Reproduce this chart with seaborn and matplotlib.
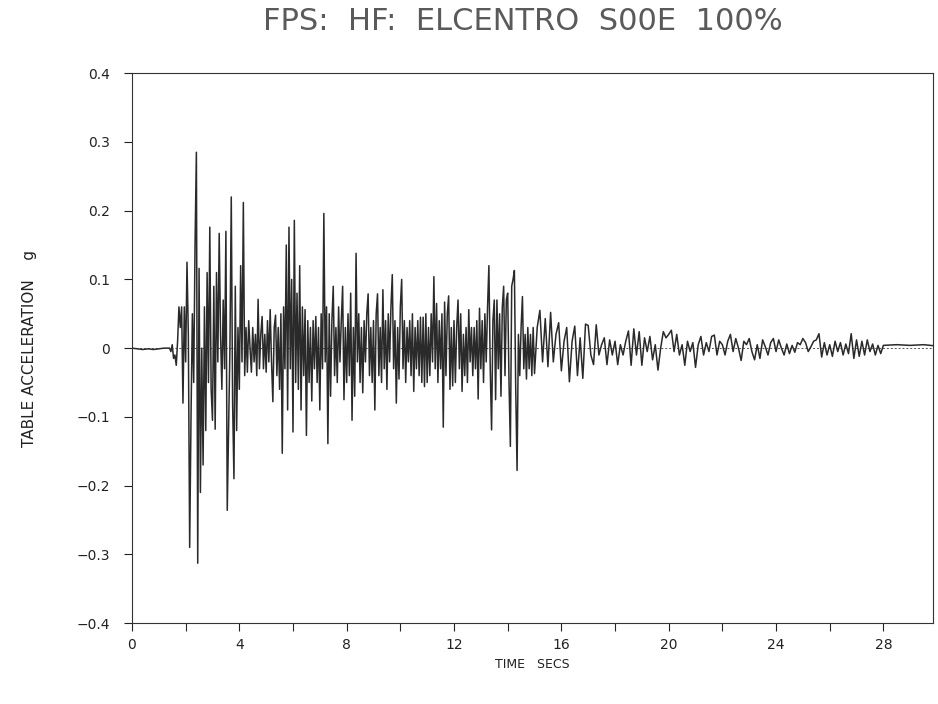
import numpy as np
import pandas as pd
import matplotlib
matplotlib.use("Agg")
import matplotlib.pyplot as plt
import seaborn as sns

# --- Data (g) ---
# quiet lead-in, 0.0 - 1.2 s every 0.2 s
dt_pre = 0.2
acc_pre = [0.0, -0.001, -0.002, -0.001, -0.002, -0.001, 0.0]

# strong shaking, 1.40 - 14.95 s every 0.05 s
t_strong = 1.4
dt_strong = 0.05
acc_strong = [
    0.0, -0.005, 0.005, -0.015, -0.01, -0.025, 0.01, 0.06, 0.03, 0.06, -0.08, 0.06,
    -0.02, 0.125, 0.02, -0.29, -0.1, 0.05, -0.05, 0.15, 0.285, -0.313,
    0.116, -0.21, 0.0, -0.17, 0.06, -0.12, 0.11, -0.05, 0.176, -0.06,
    -0.105, 0.09, -0.118, 0.11, -0.02, 0.167, 0.02, -0.06, 0.07, -0.03,
    0.17, -0.236, -0.12, 0.0, 0.22, -0.08, -0.19, 0.09, -0.12, 0.03,
    -0.06, 0.12, -0.02, 0.212, -0.04, 0.03, -0.035, 0.04, 0.0, -0.035,
    0.03, -0.02, 0.02, -0.04, 0.071, -0.03, 0.02, 0.046, -0.03, 0.02,
    -0.035, 0.04, -0.02, 0.056, -0.02, -0.078, 0.03, 0.048, -0.04, 0.03,
    -0.06, 0.05, -0.153, 0.06, -0.03, 0.15, -0.09, 0.176, -0.03, 0.1,
    -0.122, 0.186, -0.05, 0.08, -0.06, 0.12, -0.09, 0.06, -0.04, 0.056,
    -0.127, 0.04, -0.05, 0.03, -0.077, 0.04, -0.03, 0.046, -0.05, 0.03,
    -0.09, 0.05, -0.03, 0.196, -0.02, 0.06, -0.139, 0.05, -0.07, 0.04,
    0.09, -0.04, 0.03, -0.05, 0.06, -0.02, 0.04, 0.09, -0.075, 0.03,
    -0.05, 0.05, -0.04, 0.08, -0.105, 0.03, -0.07, 0.138, -0.02, 0.05,
    -0.05, 0.03, -0.065, 0.04, -0.02, 0.05, 0.079, -0.04, 0.03, -0.05,
    0.04, -0.09, 0.05, 0.079, -0.04, 0.03, -0.05, 0.085, -0.03, 0.04,
    -0.06, 0.05, -0.02, 0.06, 0.107, -0.03, 0.04, -0.08, 0.03, -0.045,
    0.06, 0.1, -0.03, 0.04, -0.05, 0.03, -0.02, 0.04, -0.04, 0.05,
    -0.063, 0.03, -0.03, 0.04, -0.04, 0.045, -0.05, 0.045, -0.056, 0.05,
    -0.05, 0.03, -0.04, 0.05, -0.02, 0.104, -0.03, 0.065, -0.05, 0.04,
    -0.03, 0.05, -0.115, 0.067, -0.04, 0.05, 0.076, -0.06, 0.03, -0.055,
    0.04, -0.05, 0.03, 0.07, -0.03, 0.05, -0.063, 0.02, -0.04, 0.03,
    -0.05, 0.056, -0.02, 0.03, -0.04, 0.03, -0.03, 0.04, -0.074, 0.058,
    -0.03, 0.04, -0.05, 0.05, -0.02, 0.06, 0.12, -0.03, -0.119, 0.04,
    0.07, -0.075, 0.07, -0.03, 0.05, -0.07, 0.06, 0.09, -0.04, 0.07,
    0.08, -0.05, -0.143, 0.09, 0.1, 0.113, -0.06, -0.178, 0.02, -0.04,
    0.03, 0.075, -0.03, 0.02, -0.045, 0.03, -0.03, 0.02, -0.04, 0.03,
]

# decaying tail, 15.0 - 28.0 s every 0.1 s
t_tail = 15.0
dt_tail = 0.1
acc_tail = [
    -0.037, 0.03, 0.055, -0.02, 0.043, -0.027, 0.052, -0.02, 0.02, 0.037,
    -0.033, 0.01, 0.03, -0.049, 0.01, 0.032, -0.04, 0.015, -0.044, 0.035,
    0.033, -0.01, -0.024, 0.034, -0.01, 0.005, 0.015, -0.024, 0.012, -0.01,
    0.01, -0.024, 0.005, -0.01, 0.01, 0.025, -0.025, 0.028, -0.01, 0.024,
    -0.025, 0.015, -0.005, 0.017, -0.017, 0.005, -0.032, 0.0, 0.024, 0.015,
    0.02, 0.026, -0.005, 0.02, -0.01, 0.005, -0.025, 0.01, -0.005, 0.008,
    -0.028, 0.005, 0.017, -0.01, 0.008, -0.005, 0.017, 0.019, -0.01, 0.01,
    0.005, -0.01, 0.01, 0.02, -0.005, 0.014, 0.0, -0.018, 0.01, 0.005,
    0.014, -0.005, -0.017, 0.005, -0.015, 0.012, 0.002, -0.01, 0.008, 0.014,
    -0.005, 0.012, 0.0, -0.01, 0.006, -0.008, 0.004, -0.006, 0.008, 0.005,
    0.014, 0.008, -0.005, 0.002, 0.01, 0.012, 0.021, -0.013, 0.008, -0.01,
    0.005, -0.012, 0.01, -0.005, 0.008, -0.01, 0.006, -0.008, 0.021, -0.015,
    0.012, -0.012, 0.01, -0.01, 0.012, -0.005, 0.006, -0.01, 0.004, -0.008,
    0.004,
]

# flat end of record, 28.5 - 30.0 s
t_end = 28.5
dt_end = 0.5
acc_end = [0.005, 0.004, 0.005, 0.003]

XTICKS = [0, 4, 8, 12, 16, 20, 24, 28]
YTICKS = [-0.4, -0.3, -0.2, -0.1, 0, 0.1, 0.2, 0.3, 0.4]
YTICKLABELS = ["\u22120.4", "\u22120.3", "\u22120.2", "\u22120.1", "0", "0.1", "0.2", "0.3", "0.4"]


def build_record():
    """Stitch the sampled pieces into one time series."""
    parts = [
        (0.0, dt_pre, acc_pre),
        (t_strong, dt_strong, acc_strong),
        (t_tail, dt_tail, acc_tail),
        (t_end, dt_end, acc_end),
    ]
    frames = []
    for t0, dt, vals in parts:
        t = t0 + dt * np.arange(len(vals))
        frames.append(pd.DataFrame({"time": t, "acc": vals}))
    return pd.concat(frames, ignore_index=True)


def main():
    df = build_record()

    sns.set_style("ticks")
    plt.rcParams["font.family"] = ["DejaVu Sans"]

    fig = plt.figure(figsize=(9.38, 7.04), dpi=100)
    ax = fig.add_axes([0.1407, 0.115, 0.8540, 0.781])

    ax.axhline(0, color="#555555", lw=0.7, ls=(0, (2, 2)), zorder=1)
    sns.lineplot(data=df, x="time", y="acc", estimator=None, sort=False,
                 color="#2a2a2a", lw=1.1, ax=ax, zorder=2)

    ax.set_xlim(0, 29.85)
    ax.set_ylim(-0.4, 0.4)
    ax.set_xticks(XTICKS)
    ax.set_xticks(range(0, 30, 2), minor=True)
    ax.set_yticks(YTICKS)
    ax.set_yticklabels(YTICKLABELS)
    ax.tick_params(axis="both", which="major", direction="out", length=6,
                   width=0.8, labelsize=10, colors="#222222")
    ax.tick_params(axis="x", which="major", pad=5)
    ax.tick_params(axis="y", which="major", pad=10)
    ax.tick_params(axis="x", which="minor", direction="out", length=6, width=0.8)

    for side in ["left", "right", "top", "bottom"]:
        ax.spines[side].set_visible(True)
        ax.spines[side].set_linewidth(0.8)
        ax.spines[side].set_color("#333333")

    ax.set_xlabel("TIME   SECS", fontsize=9, color="#222222", labelpad=4)
    ax.set_ylabel("TABLE ACCELERATION    g", fontsize=11, color="#222222", labelpad=28)
    fig.suptitle("FPS:  HF:  ELCENTRO  S00E  100%", fontsize=22, color="#5a5a5a",
                 y=0.99, x=0.557)

    fig.savefig("out.png", dpi=100)


if __name__ == "__main__":
    main()
